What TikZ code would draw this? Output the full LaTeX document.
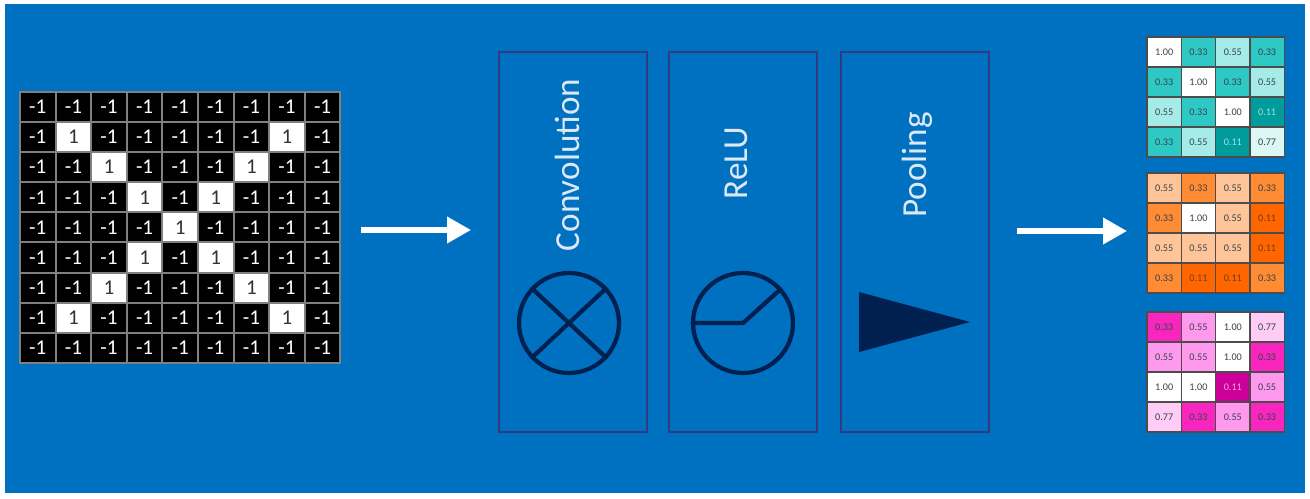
\documentclass[tikz,border=0pt]{standalone}
\usepackage{fontspec}
\setmainfont{Carlito}
\usetikzlibrary{arrows.meta}

\definecolor{slidebg}{HTML}{0070C0}
\definecolor{boxedge}{HTML}{2F3C80}
\definecolor{iconink}{HTML}{002050}
\definecolor{labelink}{HTML}{DCE9F5}
\definecolor{cellink}{HTML}{36444A}
% heat map shades, named by cell value
\definecolor{tealshade100}{HTML}{FFFFFF}
\definecolor{tealshade77}{HTML}{DDF7F5}
\definecolor{tealshade55}{HTML}{A5EBE7}
\definecolor{tealshade33}{HTML}{2EC9C5}
\definecolor{tealshade11}{HTML}{009C9C}
\definecolor{tealink}{HTML}{A0E0E0}
\definecolor{orangeshade100}{HTML}{FFFFFF}
\definecolor{orangeshade77}{HTML}{FFE0C8}
\definecolor{orangeshade55}{HTML}{FFC599}
\definecolor{orangeshade33}{HTML}{FF8B33}
\definecolor{orangeshade11}{HTML}{FF6600}
\definecolor{orangeink}{HTML}{703C20}
\definecolor{pinkshade100}{HTML}{FFFFFF}
\definecolor{pinkshade77}{HTML}{FFCCF5}
\definecolor{pinkshade55}{HTML}{FF99EE}
\definecolor{pinkshade33}{HTML}{F826BE}
\definecolor{pinkshade11}{HTML}{CC0099}
\definecolor{pinkink}{HTML}{F0A0E0}

\tikzset{
    inputcell/.style={draw=gray, line width=1.1pt, inner sep=0pt, minimum width=0.712cm, minimum height=0.602cm, font=\fontsize{12}{12}\selectfont},
    heatcell/.style={draw=black!70, line width=0.7pt, inner sep=0pt, minimum width=0.686cm, minimum height=0.6cm, font=\fontsize{5.8}{5.8}\selectfont},
    layerbox/.style={draw=boxedge, line width=1.2pt, minimum width=2.96cm, minimum height=7.6cm},
    layerlabel/.style={rotate=90, text=labelink, font=\fontsize{20}{20}\selectfont},
    iconring/.style={circle, draw=iconink, line width=2.4pt, minimum size=2cm, inner sep=0pt},
    iconline/.style={draw=iconink, line width=2.4pt},
    flowarrow/.style={draw=white, line width=3pt, -{Triangle[length=13.6pt,width=14.5pt]}}
}

\begin{document}
\begin{tikzpicture}[x=0.02cm, y=-0.02cm]
    % slide background
    \useasboundingbox (0,0) rectangle (1310,498);
    \fill[white] (0,0) rectangle (1310,498);
    \fill[slidebg] (5,4) rectangle (1305,493);

    % input image
    \foreach \row in {0,...,8} {
        \foreach \col in {0,...,8} {
            \pgfmathtruncatemacro\isone{(\row>0 && \row<8 && (\row==\col || \row+\col==8)) ? 1 : 0}
            \ifnum\isone=1
                \node[inputcell, fill=white, text=black!80] (input-\row-\col) at (37.8+35.6*\col, 107+30.1*\row) {1};
            \else
                \node[inputcell, fill=black, text=white] (input-\row-\col) at (37.8+35.6*\col, 107+30.1*\row) {-1};
            \fi
        }
    }

    % layers
    \node[layerbox] (convbox) at (573,242) {};
    \node[layerbox] (relubox) at (743,242) {};
    \node[layerbox] (poolbox) at (915,242) {};
    \node[layerlabel] (convlabel) at (567,165) {Convolution};
    \node[layerlabel] (relulabel) at (736,163) {ReLU};
    \node[layerlabel] (poollabel) at (917,165) {Pooling};

    % icons
    \node[iconring] (convicon) at (569,323) {};
    \draw[iconline] (convicon.43) -- (convicon.223);
    \draw[iconline] (convicon.137) -- (convicon.317);
    \node[iconring] (reluicon) at (743,323) {};
    \coordinate (relubend) at (743,323);
    \draw[iconline] (reluicon.west) -- (relubend) -- (reluicon.42);
    \fill[iconink] (859,292) -- (970,322) -- (859,352) -- cycle;

    % feature maps
    \foreach \gridname/\ytop/\vals in {
        teal/37/{1.00,0.33,0.55,0.33,0.33,1.00,0.33,0.55,0.55,0.33,1.00,0.11,0.33,0.55,0.11,0.77},
        orange/173/{0.55,0.33,0.55,0.33,0.33,1.00,0.55,0.11,0.55,0.55,0.55,0.11,0.33,0.11,0.11,0.33},
        pink/312/{0.33,0.55,1.00,0.77,0.55,0.55,1.00,0.33,1.00,1.00,0.11,0.55,0.77,0.33,0.55,0.33}} {
        \foreach \val [count=\i from 0] in \vals {
            \pgfmathtruncatemacro\row{int(\i/4)}
            \pgfmathtruncatemacro\col{mod(\i,4)}
            \pgfmathtruncatemacro\k{round(\val*100)}
            \def\inkname{cellink}
            \ifnum\k=11 \def\inkname{\gridname ink}\fi
            \node[heatcell, fill=\gridname shade\k, text=\inkname] (\gridname-\row-\col) at (1164.2+34.3*\col, \ytop+15+30*\row) {\val};
        }
    }

    % arrows
    \coordinate (inputout) at (361,230);
    \coordinate (layerin) at (471,230);
    \coordinate (layerout) at (1017,231);
    \coordinate (mapin) at (1127,231);
    \draw[flowarrow] (inputout) -- (layerin);
    \draw[flowarrow] (layerout) -- (mapin);
\end{tikzpicture}
\end{document}
